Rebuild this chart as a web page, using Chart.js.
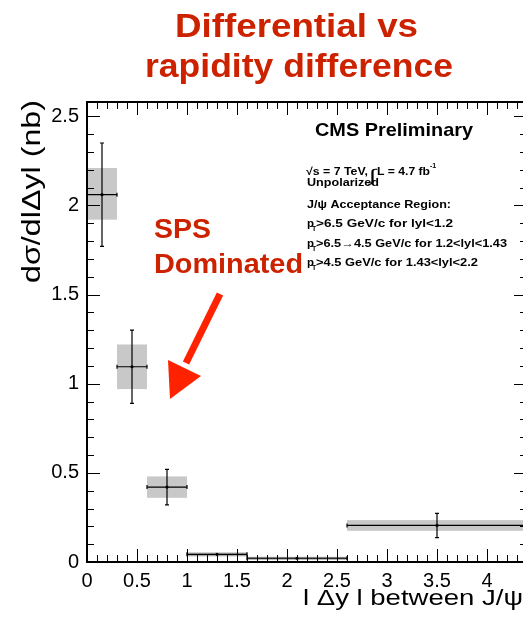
<!DOCTYPE html>
<html>
<head>
<meta charset="utf-8">
<script src="https://cdn.jsdelivr.net/npm/chart.js@4"></script>
<style>
  html, body { margin: 0; padding: 0; background: #fff; overflow: hidden; }
  canvas { display: block; }
</style>
</head>
<body>
<!-- frame runs a few px past the right edge like the original crop -->
<canvas id="dy-chart" width="531" height="625"></canvas>
<script>
// |dy| bins between the two J/psi
const binLow    = [0, 0.3, 0.6, 1.0, 1.6, 2.6];
const binHigh   = [0.3, 0.6, 1.0, 1.6, 2.6, 4.4];
const binCenter = [0.15, 0.45, 0.8, 1.3, 2.1, 3.5];
// dsigma/d|dy| in nb
const xsec      = [2.06, 1.095, 0.42, 0.043, 0.021, 0.205];
const statErr   = [0.29, 0.205, 0.10, 0.004, 0.002, 0.068];
// grey boxes = systematic band
const systLow   = [1.92, 0.97, 0.36, 0.035, 0.016, 0.175];
const systHigh  = [2.21, 1.22, 0.48, 0.050, 0.026, 0.235];
// tick labels
const xTicks = [0, 0.5, 1, 1.5, 2, 2.5, 3, 3.5, 4];
const yTicks = [0, 0.5, 1, 1.5, 2, 2.5];

const FONT = "'Liberation Sans', Arial, Helvetica, sans-serif";
const RED = "#cc2200";

// draw text squeezed/stretched to a given length
function fitText(ctx, txt, x, y, len) {
  const w = ctx.measureText(txt).width;
  ctx.save();
  ctx.translate(x, y);
  ctx.scale(len / w, 1);
  ctx.fillText(txt, 0, 0);
  ctx.restore();
}

const rootPlot = {
  id: "rootPlot",
  beforeDatasetsDraw(chart) {
    const {ctx, scales: {x, y}} = chart;
    ctx.save();
    ctx.fillStyle = "#c8c8c8";
    ctx.strokeStyle = "#9a9a9a";
    ctx.lineWidth = 1;
    for (let i = 0; i < xsec.length; i++) {
      const x0 = x.getPixelForValue(binLow[i]);
      const x1 = x.getPixelForValue(binHigh[i]);
      const y0 = y.getPixelForValue(systHigh[i]);
      const y1 = y.getPixelForValue(systLow[i]);
      ctx.fillRect(x0, y0, x1 - x0, y1 - y0);
      if (y1 - y0 < 4) ctx.strokeRect(x0, y0, x1 - x0, y1 - y0);
    }
    ctx.restore();
  },
  afterDatasetsDraw(chart) {
    const {ctx, scales: {x, y}} = chart;
    ctx.save();
    ctx.strokeStyle = "#000";
    ctx.lineWidth = 1.2;
    for (let i = 0; i < xsec.length; i++) {
      const xc = x.getPixelForValue(binCenter[i]);
      const x0 = x.getPixelForValue(binLow[i]);
      const x1 = x.getPixelForValue(binHigh[i]);
      const yc = y.getPixelForValue(xsec[i]);
      const yt = y.getPixelForValue(xsec[i] + statErr[i]);
      const yb = y.getPixelForValue(xsec[i] - statErr[i]);
      ctx.beginPath();
      ctx.moveTo(x0, yc); ctx.lineTo(x1, yc);
      ctx.moveTo(x0, yc - 2); ctx.lineTo(x0, yc + 2);
      ctx.moveTo(x1, yc - 2); ctx.lineTo(x1, yc + 2);
      if (yb - yt > 3) {
        ctx.moveTo(xc, yt); ctx.lineTo(xc, yb);
        ctx.moveTo(xc - 2, yt); ctx.lineTo(xc + 2, yt);
        ctx.moveTo(xc - 2, yb); ctx.lineTo(xc + 2, yb);
      }
      ctx.stroke();
    }
    ctx.restore();
  },
  afterDraw(chart) {
    const {ctx, chartArea: a, scales: {x, y}} = chart;
    ctx.save();
    // inner ticks on all four sides
    ctx.strokeStyle = "#000";
    ctx.lineWidth = 1;
    ctx.beginPath();
    for (let v = 0; v <= 44; v++) {
      const px = Math.round(x.getPixelForValue(v / 10)) + 0.5;
      const len = v % 5 === 0 ? 13 : 7;
      ctx.moveTo(px, a.bottom); ctx.lineTo(px, a.bottom - len);
      ctx.moveTo(px, a.top); ctx.lineTo(px, a.top + len);
    }
    for (let v = 0; v <= 25; v++) {
      const py = Math.round(y.getPixelForValue(v / 10)) + 0.5;
      const len = v % 5 === 0 ? 13 : 7;
      ctx.moveTo(a.left, py); ctx.lineTo(a.left + len, py);
      ctx.moveTo(a.right, py); ctx.lineTo(a.right - len, py);
    }
    ctx.stroke();
    ctx.lineWidth = 2;
    ctx.strokeRect(a.left, a.top, a.right - a.left, a.bottom - a.top);

    // title
    ctx.fillStyle = RED;
    ctx.textAlign = "left";
    ctx.textBaseline = "alphabetic";
    ctx.font = "bold 33px " + FONT;
    fitText(ctx, "Differential vs", 175, 37, 243);
    fitText(ctx, "rapidity difference", 145, 77, 308);

    // SPS label
    ctx.font = "bold 27px " + FONT;
    fitText(ctx, "SPS", 154, 238, 57);
    fitText(ctx, "Dominated", 154, 273, 149);

    // arrow
    ctx.strokeStyle = "#ff2200";
    ctx.fillStyle = "#ff2200";
    ctx.lineWidth = 7;
    ctx.beginPath();
    ctx.moveTo(220, 294); ctx.lineTo(186, 363);
    ctx.stroke();
    ctx.beginPath();
    ctx.moveTo(170, 399); ctx.lineTo(168, 360); ctx.lineTo(201, 376);
    ctx.closePath();
    ctx.fill();

    // CMS box
    ctx.fillStyle = "#000";
    ctx.font = "bold 19px " + FONT;
    fitText(ctx, "CMS Preliminary", 315, 136, 158);

    const small = "bold 10.5px " + FONT;
    const sub = "bold 7px " + FONT;
    ctx.font = small;
    fitText(ctx, "\u221As = 7 TeV,", 306, 175, 62);
    ctx.font = "17px " + FONT;
    fitText(ctx, "\u222B", 369, 181, 7);
    ctx.font = small;
    fitText(ctx, "L = 4.7 fb", 377, 175, 53);
    ctx.font = sub;
    ctx.fillText("-1", 430, 168);

    ctx.font = small;
    fitText(ctx, "Unpolarized", 307, 186, 72);
    fitText(ctx, "J/\u03C8 Acceptance Region:", 307, 208, 144);
    const cuts = [">6.5 GeV/c for lyl<1.2", ">6.5\u21924.5 GeV/c for 1.2<lyl<1.43", ">4.5 GeV/c for 1.43<lyl<2.2"];
    const cutLen = [137, 191, 162];
    const base = [227, 247, 266];
    cuts.forEach((t, i) => {
      ctx.font = small;
      fitText(ctx, "p", 307, base[i], 7);
      ctx.font = sub;
      ctx.fillText("T", 312, base[i] + 4);
      ctx.font = small;
      fitText(ctx, t, 316, base[i], cutLen[i]);
    });

    // axis titles
    ctx.font = "22px " + FONT;
    fitText(ctx, "l \u0394y l between J/\u03C8", 303, 605, 220);
    ctx.translate(40, 283);
    ctx.rotate(-Math.PI / 2);
    ctx.font = "25px " + FONT;
    fitText(ctx, "d\u03C3/dl\u0394yl (nb)", 0, 0, 183);
    ctx.restore();
  }
};

new Chart("dy-chart", {
  type: "scatter",
  data: {
    datasets: [{
      data: binCenter.map((v, i) => ({x: v, y: xsec[i]})),
      pointRadius: 1.6,
      pointBackgroundColor: "#000",
      pointBorderWidth: 0
    }]
  },
  options: {
    responsive: false,
    animation: false,
    layout: { padding: { left: 0, top: 102, right: 4, bottom: 0 } },
    plugins: { legend: { display: false }, tooltip: { enabled: false } },
    scales: {
      x: {
        type: "linear", min: 0, max: 4.4,
        afterBuildTicks: s => { s.ticks = xTicks.map(v => ({value: v})); },
        afterFit: s => { s.height = 63; },
        grid: { display: false },
        border: { display: false },
        ticks: { color: "#000", padding: -1, maxRotation: 0, font: { family: FONT, size: 20 },
                 callback: v => String(v) }
      },
      y: {
        type: "linear", min: 0, max: 2.58,
        afterBuildTicks: s => { s.ticks = yTicks.map(v => ({value: v})); },
        afterFit: s => { s.width = 87; },
        grid: { display: false },
        border: { display: false },
        ticks: { color: "#000", padding: 0, font: { family: FONT, size: 20 },
                 callback: v => String(v) }
      }
    }
  },
  plugins: [rootPlot]
});
</script>
</body>
</html>
